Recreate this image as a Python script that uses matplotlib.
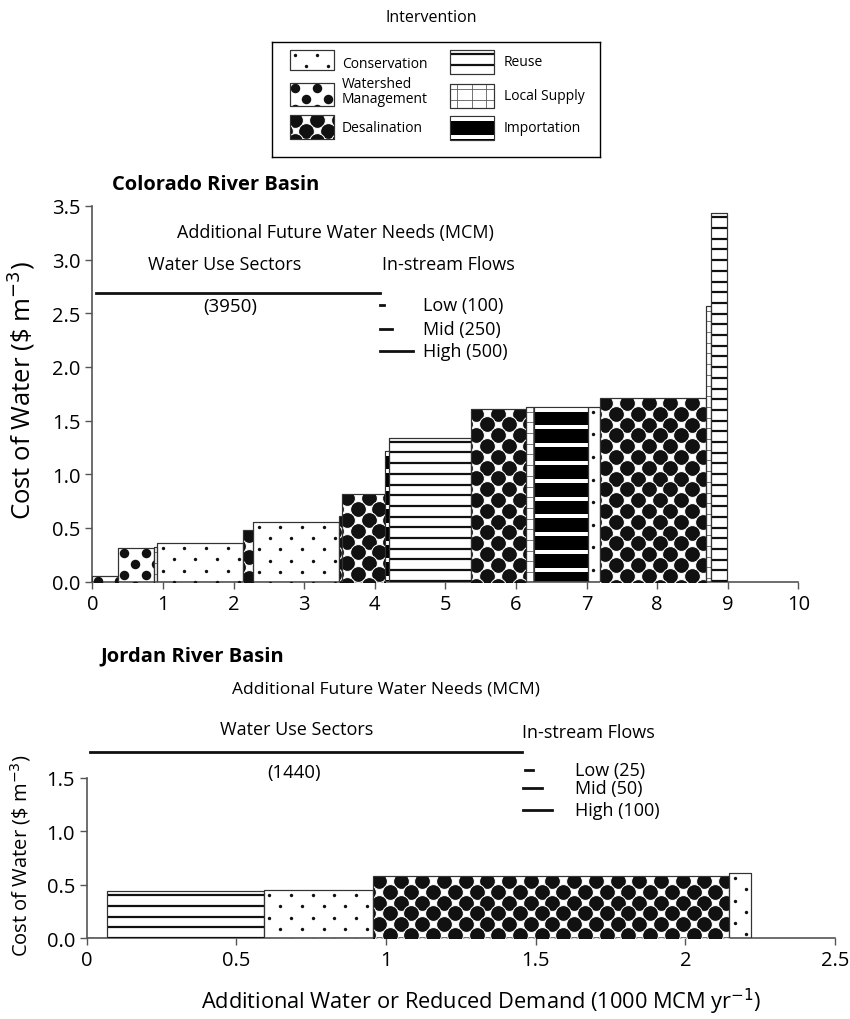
import numpy as np
import matplotlib
matplotlib.use('Agg')
import matplotlib.pyplot as plt
from matplotlib.patches import Rectangle
from matplotlib.collections import LineCollection

plt.rcParams['font.family'] = ['Open Sans', 'DejaVu Sans']

# Colorado River Basin supply curve (widths in 1000 MCM/yr, cost in $/m3)
co_widths = [0.37, 0.50, 0.05, 1.22, 0.14, 1.22, 0.03, 0.62, 0.05, 1.16,
             0.78, 0.12, 0.76, 0.17, 1.50, 0.08, 0.22]
co_costs = [0.05, 0.31, 0.32, 0.36, 0.48, 0.56, 0.61, 0.82, 1.22, 1.34,
            1.61, 1.63, 1.63, 1.63, 1.71, 2.57, 3.43]
co_types = ['Watershed', 'Watershed', 'Local Supply', 'Conservation', 'Desalination',
            'Conservation', 'Desalination', 'Desalination', 'Importation', 'Reuse',
            'Desalination', 'Local Supply', 'Importation', 'Conservation',
            'Desalination', 'Local Supply', 'Reuse']
co_sectors = 3950
co_instream = [100, 250, 500]

# Jordan River Basin
jo_widths = [0.069, 0.523, 0.366, 1.189, 0.071]
jo_costs = [0.005, 0.44, 0.45, 0.58, 0.61]
jo_types = ['Conservation', 'Reuse', 'Conservation', 'Desalination', 'Conservation']
jo_sectors = 1440
jo_instream = [25, 50, 100]

legend_items = [('Conservation', 'Conservation'), ('Watershed', 'Watershed\nManagement'),
                ('Desalination', 'Desalination'), ('Reuse', 'Reuse'),
                ('Local Supply', 'Local Supply'), ('Importation', 'Importation')]

PX = 0.72  # points per pixel at dpi 100
# diameter, x spacing, row spacing (pixels), white rim
DOTS = {'Conservation': (3.4, 21.7, 11.3, 0),
        'Watershed': (9.5, 21.7, 10.8, 0),
        'Desalination': (15.8, 21.7, 10.8, 1.0)}


def pattern_bar(ax, x, y, w, h, kind):
    face = 'black' if kind == 'Importation' else 'white'
    rect = Rectangle((x, y), w, h, facecolor=face, edgecolor='#333333', lw=0.8, zorder=2)
    ax.add_patch(rect)
    T = ax.transData
    p = T.transform([(x, y), (x + w, y + h)])
    left, right = sorted(p[:, 0])
    bot, top = sorted(p[:, 1])
    inv = T.inverted()
    if kind in DOTS:
        d, dx, dy, rim = DOTS[kind]
        pts = []
        for k, yy in enumerate(np.arange(top - dy * 0.45, bot - dy, -dy)):
            off = (k % 2) * dx / 2
            for xx in np.arange(left + dx * 0.25 + off - dx, right + dx, dx):
                pts.append((xx, yy))
        pts = inv.transform(np.array(pts))
        sc = ax.scatter(pts[:, 0], pts[:, 1], s=(d * PX) ** 2, c='#111111',
                        edgecolors='white', linewidths=rim * PX, zorder=3)
        sc.set_clip_path(rect)
    else:
        segs = []
        if kind == 'Reuse':
            ys = np.arange(top - 4, bot, -10.7)
            lw, col = 2.2, '#111111'
        elif kind == 'Importation':
            ys = np.arange(top - 3, bot, -17.8)
            lw, col = 4.0, 'white'
        else:
            ys = np.arange(top - 5, bot, -10.7)
            lw, col = 0.8, '#555555'
            for xx in np.arange(left + 7, right, 14.7):
                segs.append([(xx, bot), (xx, top)])
        for yy in ys:
            segs.append([(left - 2, yy), (right + 2, yy)])
        segs = [inv.transform(np.array(s)) for s in segs]
        lc = LineCollection(segs, colors=col, linewidths=lw * PX, zorder=3)
        ax.add_collection(lc)
        lc.set_clip_path(rect)
    # outline on top
    ax.add_patch(Rectangle((x, y), w, h, fill=False, edgecolor='#333333', lw=0.8, zorder=4))


def style_axes(ax):
    for s in ['top', 'right']:
        ax.spines[s].set_visible(False)
    for s in ['left', 'bottom']:
        ax.spines[s].set_linewidth(1.2)
        ax.spines[s].set_color('#555555')
    ax.tick_params(direction='out', length=5, width=1, color='#555555', labelsize=14.5)
    ax.autoscale(False)


fig = plt.figure(figsize=(8.5, 10.2), dpi=100)

# ---- legend box
lax = fig.add_axes([272 / 850, 1 - 158 / 1020, 328 / 850, 115 / 1020])
lax.set_xlim(0, 328)
lax.set_ylim(115, 0)
lax.set_xticks([])
lax.set_yticks([])
lax.autoscale(False)
for s in lax.spines.values():
    s.set_linewidth(1.0)
legend_pos = [(18, 8, 44, 20), (18, 41, 44, 23), (18, 73, 44, 24),
              (178, 8, 44, 24), (178, 42, 44, 24), (178, 74, 44, 24)]
text_pos = [(70, 22), (70, 49), (70, 85), (232, 19), (232, 53), (232, 85)]
for (kind, label), (bx, by, bw, bh), (tx, ty) in zip(legend_items, legend_pos, text_pos):
    pattern_bar(lax, bx, by, bw, bh, kind)
    lax.text(tx, ty, label, fontsize=10, va='center', ha='left', linespacing=1.05)
fig.text(431 / 850, 1 - 18 / 1020, 'Intervention', fontsize=11.5, ha='center', va='center')

# ---- Colorado
ax1 = fig.add_axes([92.3 / 850, 1 - 582.7 / 1020, 706 / 850, 375.9 / 1020])
ax1.set_xlim(0, 10)
ax1.set_ylim(0, 3.5)
style_axes(ax1)
lefts = np.concatenate([[0], np.cumsum(co_widths)[:-1]])
for x0, w, h, k in zip(lefts, co_widths, co_costs, co_types):
    pattern_bar(ax1, x0, 0, w, h, k)
ax1.set_xticks(np.arange(0, 11, 1))
ax1.set_yticks(np.arange(0, 3.51, 0.5))
ax1.set_yticklabels(['%.1f' % v for v in np.arange(0, 3.51, 0.5)])
ax1.set_ylabel('Cost of Water (\\$ m$^{-3}$)', fontsize=18.5)
ax1.yaxis.set_label_coords(-0.078, 0.51)

ax1.text(3.45, 3.26, 'Additional Future Water Needs (MCM)', fontsize=13, ha='center', va='center')
ax1.text(1.88, 2.96, 'Water Use Sectors', fontsize=13, ha='center', va='center')
ax1.plot([0.05, 4.07], [2.69, 2.69], color='#111111', lw=2, clip_on=False)
ax1.text(1.95, 2.57, '(%d)' % co_sectors, fontsize=13.5, ha='center', va='center')
ax1.text(4.10, 2.96, 'In-stream Flows', fontsize=13, ha='left', va='center')
dash_ends = [4.13, 4.24, 4.54]
dash_y = [2.58, 2.35, 2.15]
for name, val, xe, yy in zip(['Low', 'Mid', 'High'], co_instream, dash_ends, dash_y):
    ax1.plot([4.07, xe], [yy, yy], color='#111111', lw=2, clip_on=False)
    ax1.text(4.68, yy, '%s (%d)' % (name, val), fontsize=13, ha='left', va='center')
fig.text(112 / 850, 1 - 185 / 1020, 'Colorado River Basin', fontsize=14.5,
         fontweight='bold', ha='left', va='center')

# ---- Jordan
ax2 = fig.add_axes([86.7 / 850, 1 - 939.3 / 1020, 748.3 / 850, 160.8 / 1020])
ax2.set_xlim(0, 2.5)
ax2.set_ylim(0, 1.5)
style_axes(ax2)
lefts = np.concatenate([[0], np.cumsum(jo_widths)[:-1]])
for x0, w, h, k in zip(lefts, jo_widths, jo_costs, jo_types):
    pattern_bar(ax2, x0, 0, w, h, k)
ax2.set_xticks([0, 0.5, 1, 1.5, 2, 2.5])
ax2.set_xticklabels(['0', '0.5', '1', '1.5', '2', '2.5'])
ax2.set_yticks([0, 0.5, 1.0, 1.5])
ax2.set_yticklabels(['0.0', '0.5', '1.0', '1.5'])
ax2.set_ylabel('Cost of Water (\\$ m$^{-3}$)', fontsize=14.5)
ax2.yaxis.set_label_coords(-0.072, 0.52)

ax2.text(1.0, 2.33, 'Additional Future Water Needs (MCM)', fontsize=12.5, ha='center', va='center')
ax2.text(0.70, 1.95, 'Water Use Sectors', fontsize=13, ha='center', va='center')
ax2.plot([0.011, 1.453], [1.735, 1.735], color='#111111', lw=2, clip_on=False)
ax2.text(0.693, 1.549, '(%d)' % jo_sectors, fontsize=13.3, ha='center', va='center')
ax2.text(1.455, 1.925, 'In-stream Flows', fontsize=13, ha='left', va='center')
dash_x = [(1.465, 1.49), (1.459, 1.52), (1.457, 1.553)]
dash_y = [1.57, 1.40, 1.20]
for name, val, (xs, xe), yy in zip(['Low', 'Mid', 'High'], jo_instream, dash_x, dash_y):
    ax2.plot([xs, xe], [yy, yy], color='#111111', lw=2, clip_on=False)
    ax2.text(1.632, yy, '%s (%d)' % (name, val), fontsize=13, ha='left', va='center')
fig.text(100 / 850, 1 - 656 / 1020, 'Jordan River Basin', fontsize=14.5,
         fontweight='bold', ha='left', va='center')

fig.text(481 / 850, 1 - 1002 / 1020, 'Additional Water or Reduced Demand (1000 MCM yr$^{-1}$)',
         fontsize=15.7, ha='center', va='center')

fig.savefig('out.png', dpi=100)
